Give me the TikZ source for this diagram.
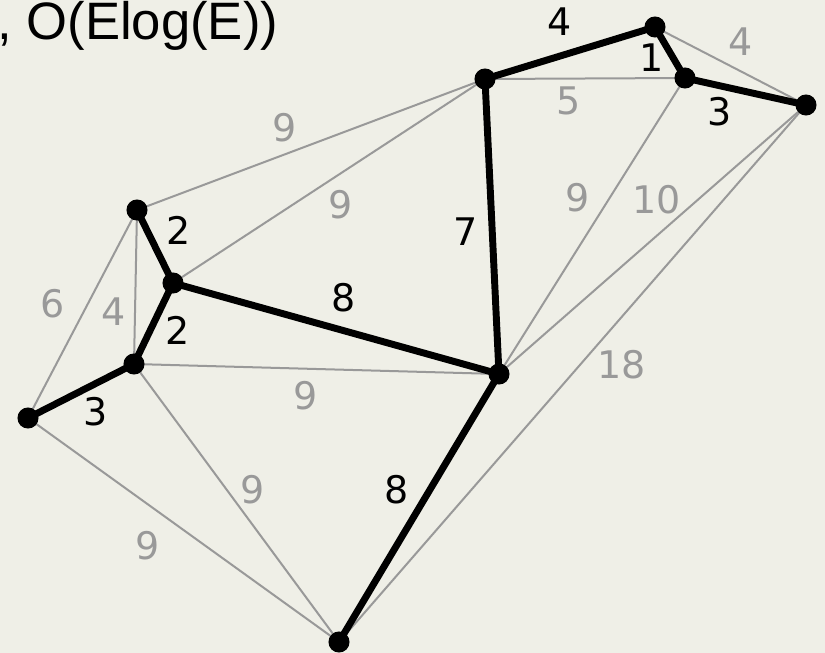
\documentclass[tikz,border=0pt]{standalone}
\usepackage{fontspec}
\setmainfont{DejaVu Sans}
\newfontfamily\titlefont{Liberation Sans}
\definecolor{bgc}{RGB}{239,239,231}
\definecolor{edgegray}{RGB}{153,153,153}
\begin{document}
\begin{tikzpicture}[x=0.75pt,y=-0.75pt,
  grayedge/.style={draw=edgegray,line width=1.5pt},
  treeedge/.style={draw=black,line width=5.2pt,line cap=round},
  graylabel/.style={text=edgegray,font=\fontsize{28.5}{30}\selectfont,inner sep=0pt},
  treelabel/.style={text=black,font=\fontsize{28.5}{30}\selectfont,inner sep=0pt},
  vdot/.style={fill=black}]
\fill[bgc] (0,0) rectangle (825,653);
\useasboundingbox (0,0) rectangle (825,653);
\node[anchor=base west,inner sep=0pt,font=\titlefont\fontsize{39.5}{42}\selectfont] (title) at (-3,40) {, O(Elog(E))};
% vertices
\coordinate (A) at (137,210);
\coordinate (B) at (173,283);
\coordinate (C) at (134,364);
\coordinate (D) at (28,418);
\coordinate (E) at (485,79);
\coordinate (F) at (655,27);
\coordinate (G) at (685,78);
\coordinate (H) at (806,105);
\coordinate (I) at (499,374);
\coordinate (J) at (339,642);
% gray edges
\draw[grayedge] (A) -- (E);
\draw[grayedge] (B) -- (E);
\draw[grayedge] (A) -- (C);
\draw[grayedge] (A) -- (D);
\draw[grayedge] (C) -- (I);
\draw[grayedge] (C) -- (J);
\draw[grayedge] (D) -- (J);
\draw[grayedge] (E) -- (G);
\draw[grayedge] (F) -- (H);
\draw[grayedge] (G) -- (I);
\draw[grayedge] (H) -- (I);
\draw[grayedge] (H) -- (J);
% tree edges
\draw[treeedge] (A) -- (B);
\draw[treeedge] (B) -- (C);
\draw[treeedge] (C) -- (D);
\draw[treeedge] (B) -- (I);
\draw[treeedge] (E) -- (I);
\draw[treeedge] (E) -- (F);
\draw[treeedge] (F) -- (G);
\draw[treeedge] (G) -- (H);
\draw[treeedge] (I) -- (J);
% dots
\foreach \v in {A,B,C,D,E,F,G,H,I,J} \fill[vdot] (\v) circle[radius=7.9pt];
% tree labels
\node[treelabel] (lEF) at (560,22) {4};
\node[treelabel] (lFG) at (652,58) {1};
\node[treelabel] (lGH) at (720,112) {3};
\node[treelabel] (lAB) at (179,230) {2};
\node[treelabel] (lBC) at (178,330) {2};
\node[treelabel] (lCD) at (96,412) {3};
\node[treelabel] (lBI) at (344,298) {8};
\node[treelabel] (lEI) at (466,232) {7};
\node[treelabel] (lIJ) at (397,490) {8};
% gray labels
\node[graylabel] (lFH) at (741,42) {4};
\node[graylabel] (lEG) at (569,101) {5};
\node[graylabel] (lAE) at (285,128) {9};
\node[graylabel] (lBE) at (341,205) {9};
\node[graylabel] (lGI) at (578,198) {9};
\node[graylabel] (lHI) at (657,200) {10};
\node[graylabel] (lAD) at (53,304) {6};
\node[graylabel] (lAC) at (114,312) {4};
\node[graylabel] (lCI) at (306,396) {9};
\node[graylabel] (lHJ) at (622,365) {18};
\node[graylabel] (lCJ) at (253,490) {9};
\node[graylabel] (lDJ) at (148,546) {9};
\end{tikzpicture}
\end{document}
